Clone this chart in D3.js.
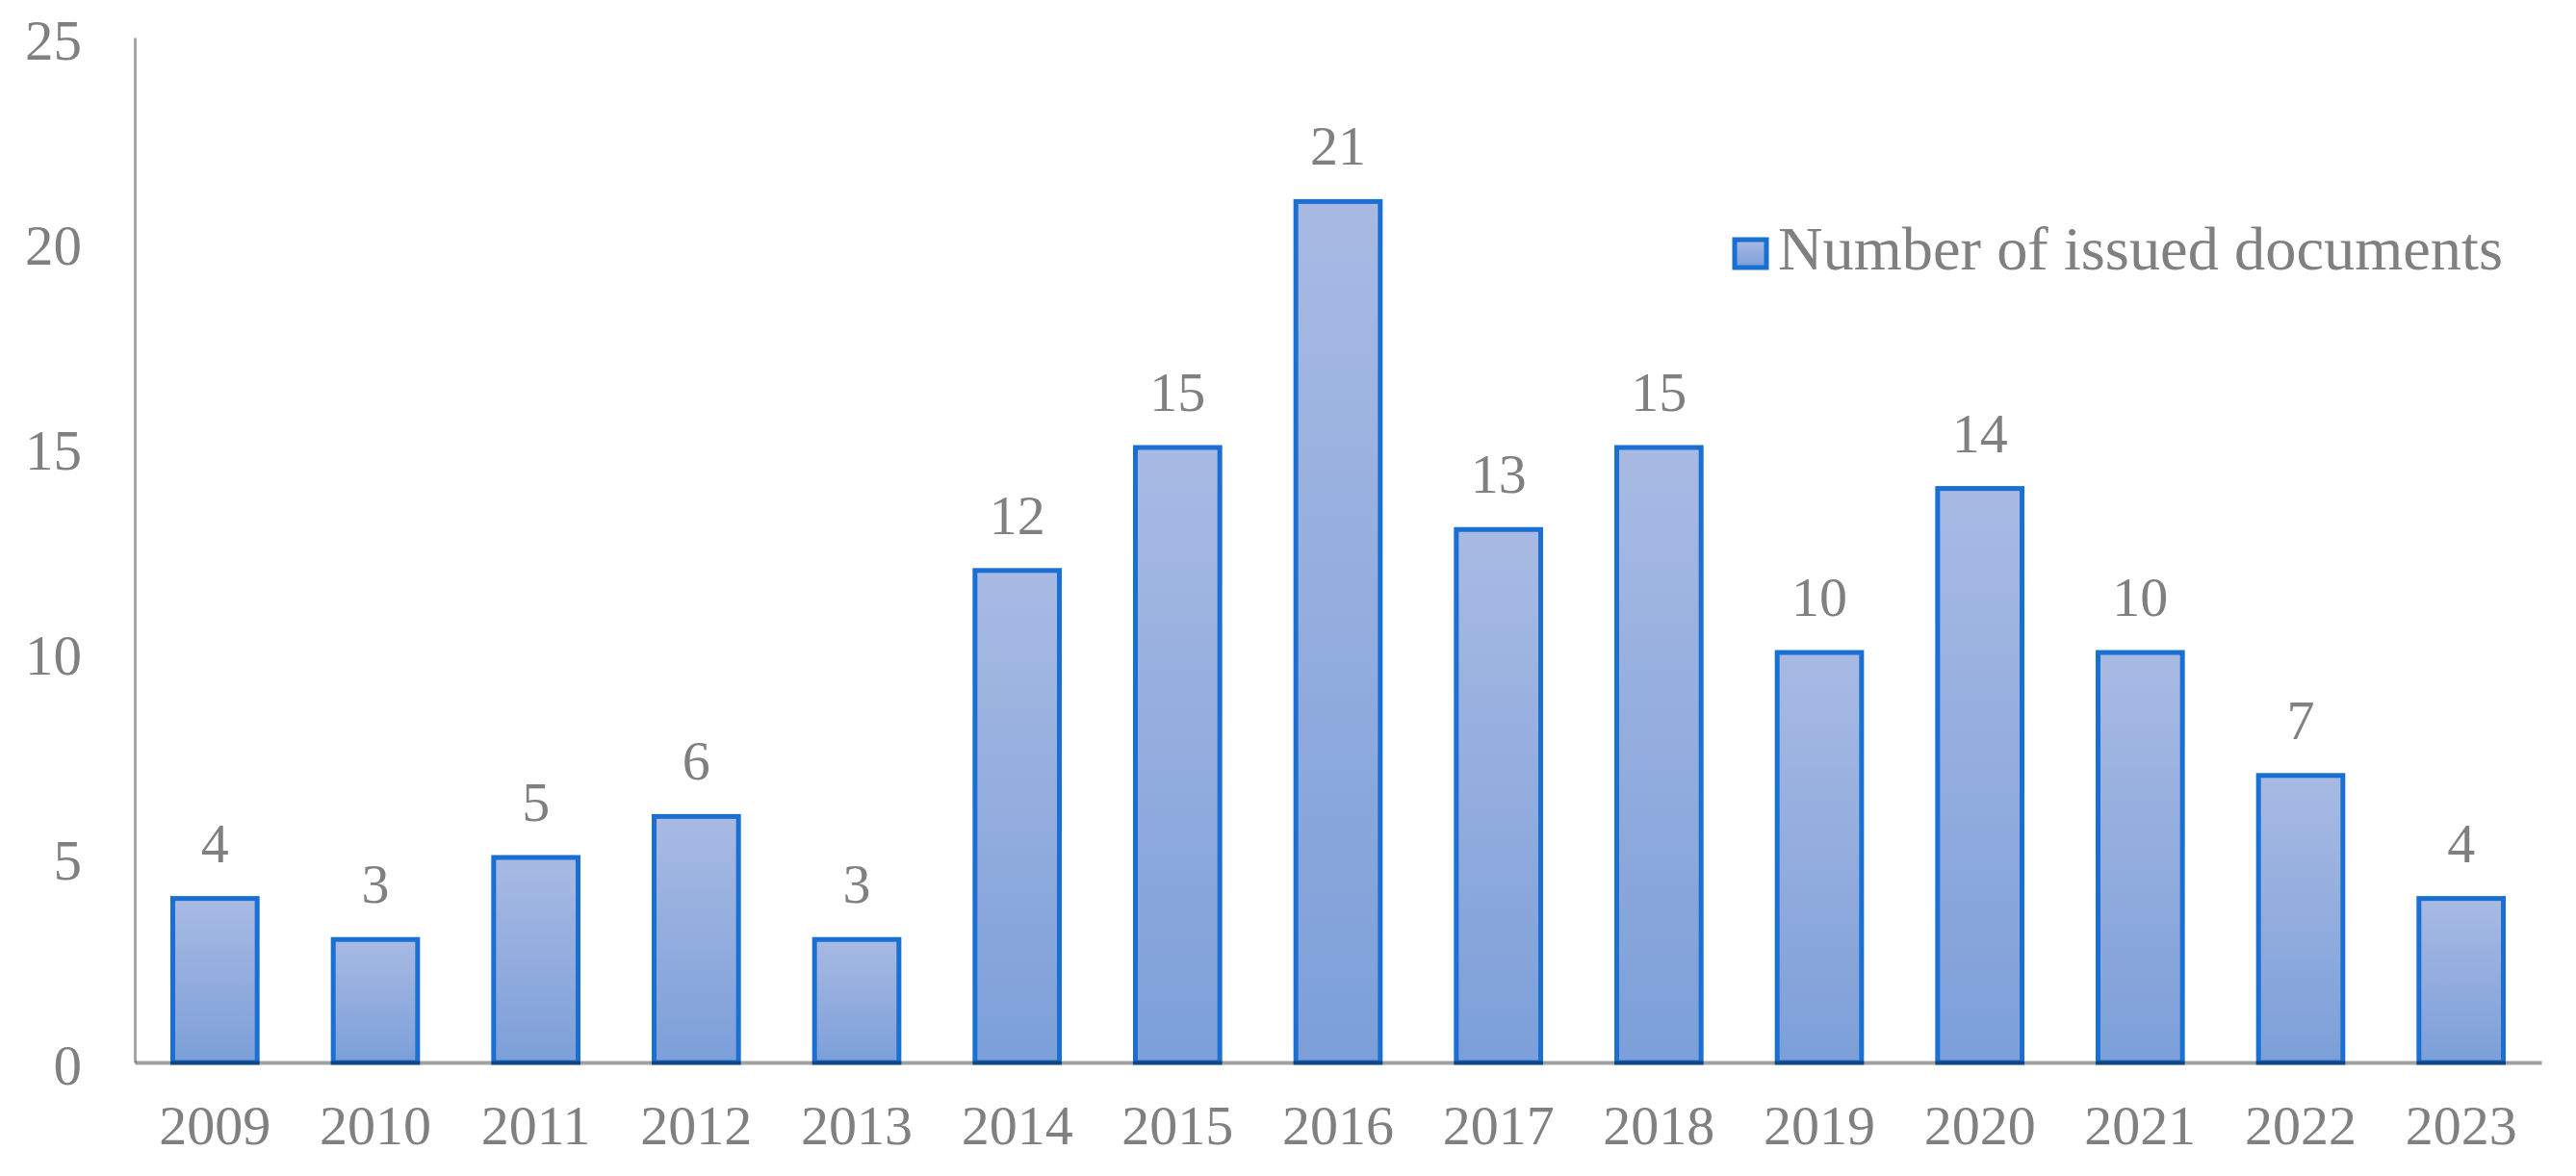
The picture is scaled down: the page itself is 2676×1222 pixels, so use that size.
<!DOCTYPE html>
<html>
<head>
<meta charset="utf-8">
<script src="https://cdn.jsdelivr.net/npm/d3@7"></script>
<style>
  html, body { margin: 0; padding: 0; background: #fff; }
  text { font-family: "Liberation Serif", "Times New Roman", serif; fill: #808080; }
</style>
</head>
<body>
<svg id="chart"></svg>
<script>
const years = ["2009","2010","2011","2012","2013","2014","2015","2016","2017","2018","2019","2020","2021","2022","2023"];
const docs = [4, 3, 5, 6, 3, 12, 15, 21, 13, 15, 10, 14, 10, 7, 4];
const yTicks = [0, 5, 10, 15, 20, 25];
const seriesName = "Number of issued documents";

const width = 2676;
const height = 1222;
const margin = { top: 39, right: 36, bottom: 118, left: 140 };

const svg = d3.select("#chart").attr("width", width).attr("height", height);

const defs = svg.append("defs");
const grad = defs.append("linearGradient")
  .attr("id", "barFill")
  .attr("x1", 0).attr("y1", 0).attr("x2", 0).attr("y2", 1);
grad.append("stop").attr("offset", "0%").attr("stop-color", "#a8bae3");
grad.append("stop").attr("offset", "100%").attr("stop-color", "#7c9fd9");

const x = d3.scaleBand()
  .domain(years)
  .range([margin.left, width - margin.right])
  .paddingInner(0.474)
  .paddingOuter(0.237);

const y = d3.scaleLinear()
  .domain([0, 25])
  .range([height - margin.bottom, margin.top]);

// y axis
const yAxis = svg.append("g")
  .attr("transform", `translate(${margin.left},0)`)
  .call(d3.axisLeft(y).tickValues(yTicks).tickSize(0).tickPadding(55));
yAxis.select(".domain").attr("stroke", "#a6a6a6").attr("stroke-width", 3);
yAxis.selectAll("text").attr("font-size", 59).attr("fill", "#808080")
  .attr("dy", "0.38em")
  .attr("font-family", "Liberation Serif");

// bars
svg.selectAll("rect.bar")
  .data(docs)
  .enter()
  .append("rect")
  .attr("class", "bar")
  .attr("x", (d, i) => x(years[i]))
  .attr("y", d => y(d))
  .attr("width", x.bandwidth())
  .attr("height", d => y(0) - y(d))
  .attr("fill", "url(#barFill)")
  .attr("stroke", "#1a70d2")
  .attr("stroke-width", 5);

// x axis
const xAxis = svg.append("g")
  .attr("transform", `translate(0,${y(0)})`)
  .call(d3.axisBottom(x).tickSize(0).tickPadding(44));
xAxis.select(".domain").attr("stroke", "#a0a0a0").attr("stroke-width", 4)
  .style("mix-blend-mode", "multiply");
xAxis.selectAll("text").attr("font-size", 58).attr("fill", "#808080")
  .attr("font-family", "Liberation Serif");

// data labels
svg.selectAll("text.val")
  .data(docs)
  .enter()
  .append("text")
  .attr("class", "val")
  .attr("x", (d, i) => x(years[i]) + x.bandwidth() / 2)
  .attr("y", d => y(d) - 38)
  .attr("text-anchor", "middle")
  .attr("font-size", 58)
  .text(d => d);

// legend
const legend = svg.append("g").attr("transform", "translate(1802,249)");
legend.append("rect")
  .attr("width", 33).attr("height", 29)
  .attr("fill", "url(#barFill)")
  .attr("stroke", "#1a70d2")
  .attr("stroke-width", 5);
legend.append("text")
  .attr("x", 45)
  .attr("y", 31)
  .attr("font-size", 64)
  .attr("textLength", 753)
  .attr("lengthAdjust", "spacingAndGlyphs")
  .text(seriesName);
</script>
</body>
</html>
